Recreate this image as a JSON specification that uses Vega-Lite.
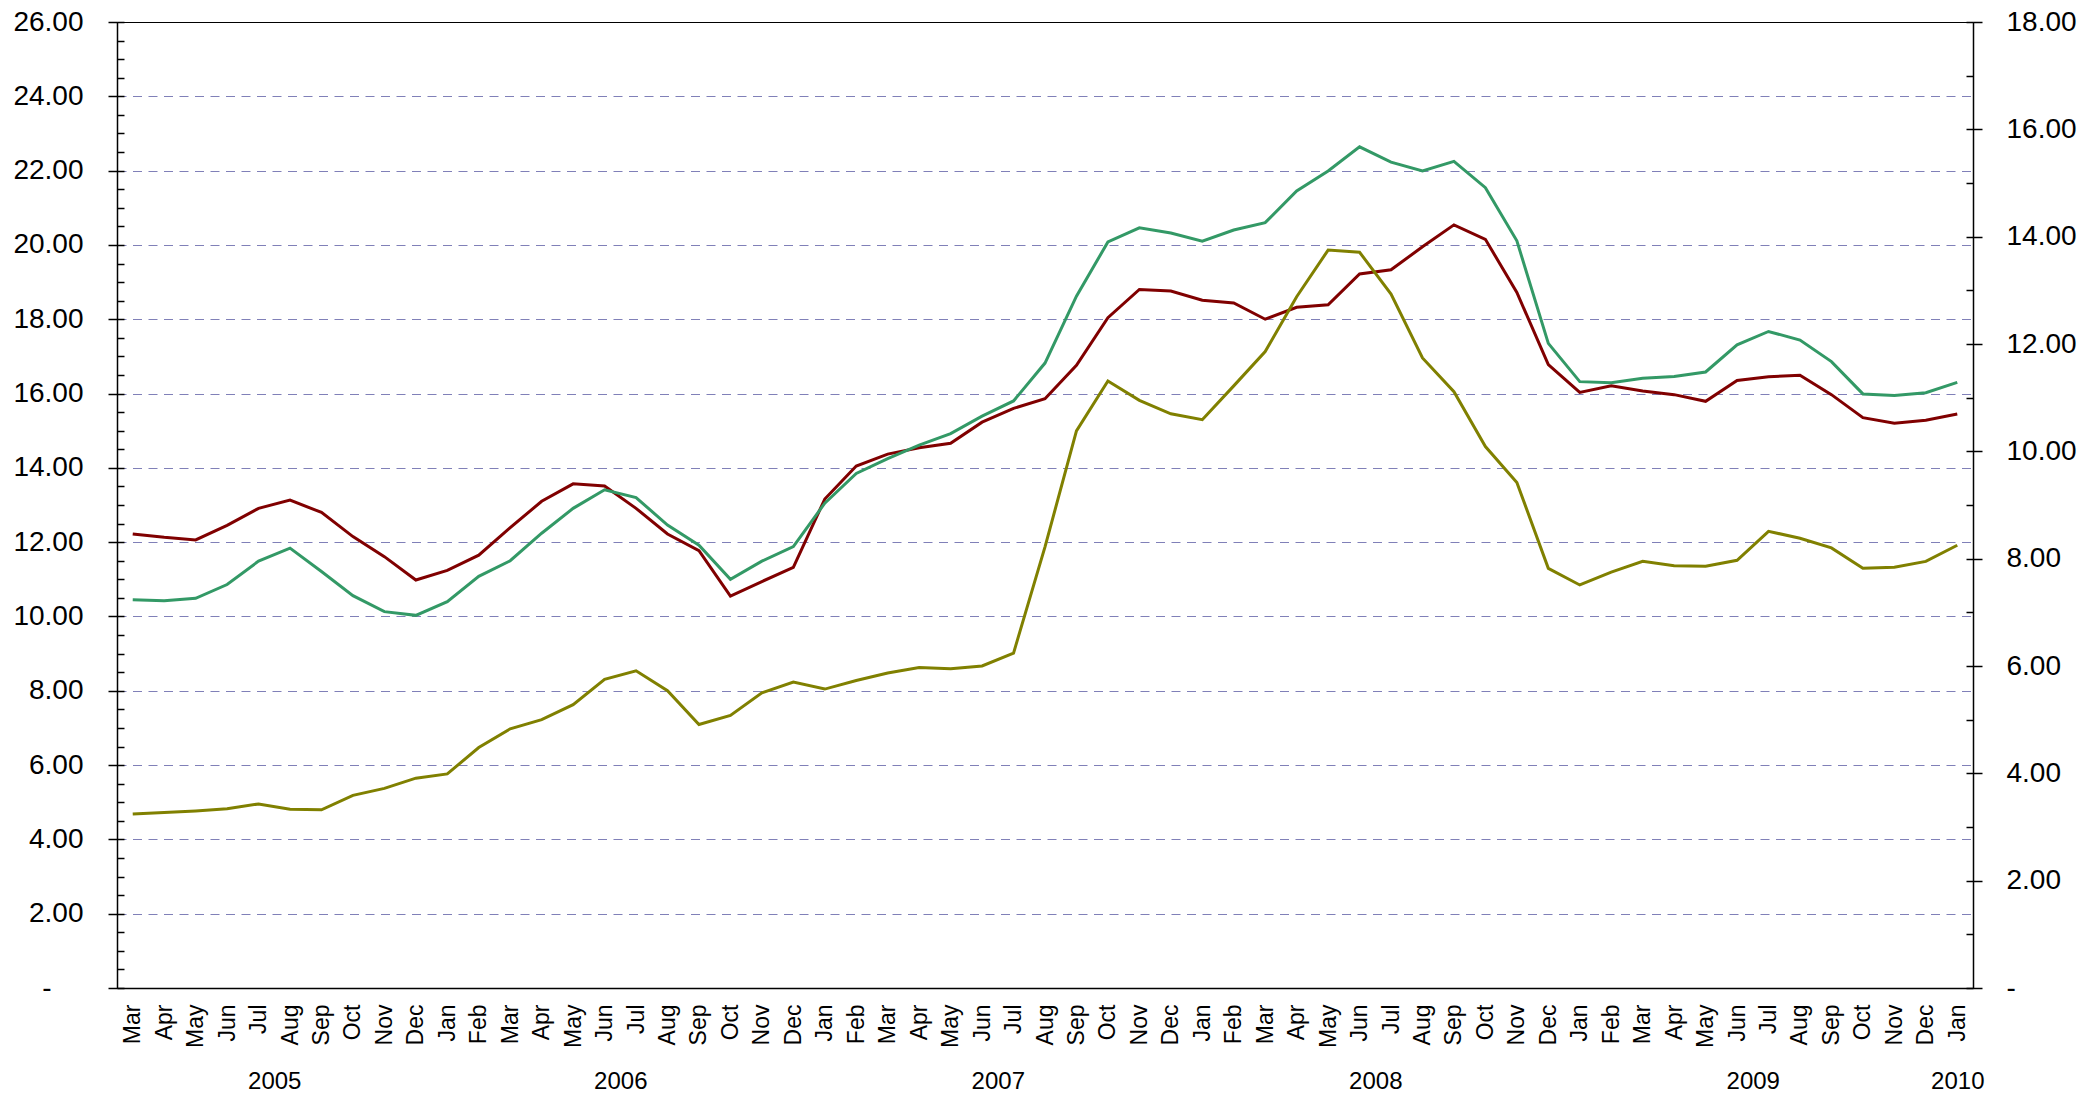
{
  "$schema": "https://vega.github.io/schema/vega-lite/v6.json",
  "width": 1856,
  "height": 966,
  "autosize": {"type": "none"},
  "padding": {"left": 117, "top": 22, "right": 111, "bottom": 106},
  "background": "white",
  "config": {
    "font": "Liberation Sans",
    "view": {"stroke": "black", "strokeWidth": 1},
    "axis": {"titleFont": "Liberation Sans", "labelFont": "Liberation Sans", "labelColor": "black"}
  },
  "data": {
    "values": [
      {"m": "Mar 2005", "a": 12.22, "b": 10.45, "c": 3.24},
      {"m": "Apr 2005", "a": 12.13, "b": 10.42, "c": 3.27},
      {"m": "May 2005", "a": 12.06, "b": 10.49, "c": 3.30},
      {"m": "Jun 2005", "a": 12.45, "b": 10.86, "c": 3.34},
      {"m": "Jul 2005", "a": 12.91, "b": 11.49, "c": 3.43},
      {"m": "Aug 2005", "a": 13.13, "b": 11.84, "c": 3.33},
      {"m": "Sep 2005", "a": 12.80, "b": 11.21, "c": 3.32},
      {"m": "Oct 2005", "a": 12.15, "b": 10.56, "c": 3.59},
      {"m": "Nov 2005", "a": 11.61, "b": 10.13, "c": 3.72},
      {"m": "Dec 2005", "a": 10.98, "b": 10.03, "c": 3.91},
      {"m": "Jan 2006", "a": 11.24, "b": 10.40, "c": 3.99},
      {"m": "Feb 2006", "a": 11.65, "b": 11.08, "c": 4.48},
      {"m": "Mar 2006", "a": 12.39, "b": 11.50, "c": 4.83},
      {"m": "Apr 2006", "a": 13.10, "b": 12.24, "c": 5.00},
      {"m": "May 2006", "a": 13.57, "b": 12.91, "c": 5.28},
      {"m": "Jun 2006", "a": 13.51, "b": 13.41, "c": 5.75},
      {"m": "Jul 2006", "a": 12.91, "b": 13.20, "c": 5.91},
      {"m": "Aug 2006", "a": 12.22, "b": 12.46, "c": 5.54},
      {"m": "Sep 2006", "a": 11.77, "b": 11.92, "c": 4.91},
      {"m": "Oct 2006", "a": 10.55, "b": 11.00, "c": 5.08},
      {"m": "Nov 2006", "a": 10.94, "b": 11.49, "c": 5.50},
      {"m": "Dec 2006", "a": 11.32, "b": 11.88, "c": 5.70},
      {"m": "Jan 2007", "a": 13.16, "b": 13.05, "c": 5.57},
      {"m": "Feb 2007", "a": 14.05, "b": 13.85, "c": 5.73},
      {"m": "Mar 2007", "a": 14.37, "b": 14.25, "c": 5.87},
      {"m": "Apr 2007", "a": 14.54, "b": 14.61, "c": 5.97},
      {"m": "May 2007", "a": 14.66, "b": 14.92, "c": 5.95},
      {"m": "Jun 2007", "a": 15.23, "b": 15.39, "c": 6.00},
      {"m": "Jul 2007", "a": 15.60, "b": 15.80, "c": 6.24},
      {"m": "Aug 2007", "a": 15.86, "b": 16.82, "c": 8.22},
      {"m": "Sep 2007", "a": 16.76, "b": 18.62, "c": 10.38},
      {"m": "Oct 2007", "a": 18.04, "b": 20.08, "c": 11.31},
      {"m": "Nov 2007", "a": 18.80, "b": 20.46, "c": 10.95},
      {"m": "Dec 2007", "a": 18.76, "b": 20.32, "c": 10.70},
      {"m": "Jan 2008", "a": 18.51, "b": 20.10, "c": 10.59},
      {"m": "Feb 2008", "a": 18.44, "b": 20.40, "c": 11.22},
      {"m": "Mar 2008", "a": 18.00, "b": 20.60, "c": 11.86},
      {"m": "Apr 2008", "a": 18.32, "b": 21.45, "c": 12.88},
      {"m": "May 2008", "a": 18.39, "b": 21.99, "c": 13.75},
      {"m": "Jun 2008", "a": 19.22, "b": 22.64, "c": 13.71},
      {"m": "Jul 2008", "a": 19.33, "b": 22.23, "c": 12.93},
      {"m": "Aug 2008", "a": 19.95, "b": 21.99, "c": 11.74},
      {"m": "Sep 2008", "a": 20.54, "b": 22.25, "c": 11.11},
      {"m": "Oct 2008", "a": 20.15, "b": 21.54, "c": 10.09},
      {"m": "Nov 2008", "a": 18.72, "b": 20.11, "c": 9.42},
      {"m": "Dec 2008", "a": 16.78, "b": 17.35, "c": 7.82},
      {"m": "Jan 2009", "a": 16.03, "b": 16.32, "c": 7.51},
      {"m": "Feb 2009", "a": 16.21, "b": 16.29, "c": 7.75},
      {"m": "Mar 2009", "a": 16.07, "b": 16.41, "c": 7.95},
      {"m": "Apr 2009", "a": 15.97, "b": 16.46, "c": 7.87},
      {"m": "May 2009", "a": 15.79, "b": 16.58, "c": 7.86},
      {"m": "Jun 2009", "a": 16.35, "b": 17.31, "c": 7.97},
      {"m": "Jul 2009", "a": 16.45, "b": 17.67, "c": 8.51},
      {"m": "Aug 2009", "a": 16.49, "b": 17.44, "c": 8.38},
      {"m": "Sep 2009", "a": 15.97, "b": 16.86, "c": 8.20},
      {"m": "Oct 2009", "a": 15.35, "b": 15.99, "c": 7.82},
      {"m": "Nov 2009", "a": 15.20, "b": 15.95, "c": 7.84},
      {"m": "Dec 2009", "a": 15.28, "b": 16.02, "c": 7.95},
      {"m": "Jan 2010", "a": 15.45, "b": 16.30, "c": 8.25}
    ]
  },
  "resolve": {"scale": {"y": "independent"}, "axis": {"x": "independent", "y": "independent"}},
  "layer": [
    {
      "mark": {"type": "line", "strokeOpacity": 0},
      "encoding": {
        "x": {"field": "m", "type": "ordinal", "sort": null, "scale": {"type": "point", "padding": 0.5}, "axis": null},
        "y": {
          "field": "a", "type": "quantitative",
          "scale": {"domain": [0, 26], "nice": false, "zero": true},
          "axis": {
            "orient": "left", "title": null, "labels": false, "domain": false, "grid": false,
            "values": [0,0.5,1,1.5,2,2.5,3,3.5,4,4.5,5,5.5,6,6.5,7,7.5,8,8.5,9,9.5,10,10.5,11,11.5,12,12.5,13,13.5,14,14.5,15,15.5,16,16.5,17,17.5,18,18.5,19,19.5,20,20.5,21,21.5,22,22.5,23,23.5,24,24.5,25,25.5,26],
            "ticks": true, "tickSize": -7, "tickColor": "black", "tickWidth": 1.5
          }
        }
      }
    },
    {
      "mark": {"type": "line", "strokeOpacity": 0},
      "encoding": {
        "x": {"field": "m", "type": "ordinal", "sort": null, "axis": null},
        "y": {
          "field": "c", "type": "quantitative",
          "scale": {"domain": [0, 18], "nice": false, "zero": true},
          "axis": {
            "orient": "right", "title": null, "labels": false, "domain": false, "grid": false,
            "values": [0,1,2,3,4,5,6,7,8,9,10,11,12,13,14,15,16,17,18],
            "ticks": true, "tickSize": -7, "tickColor": "black", "tickWidth": 1.5
          }
        }
      }
    },
    {
      "transform": [{"fold": ["a", "b"], "as": ["k", "v"]}],
      "mark": {"type": "line", "strokeWidth": 3},
      "encoding": {
        "x": {
          "field": "m", "type": "ordinal", "sort": null,
          "axis": {
            "orient": "bottom", "title": null, "ticks": false, "grid": false,
            "domain": true, "domainColor": "black", "domainWidth": 1.5,
            "labelAngle": 270, "labelAlign": "right", "labelBaseline": "middle",
            "labelPadding": 16, "labelFontSize": 23, "labelOverlap": false,
            "labelExpr": "split(datum.value, ' ')[0]"
          }
        },
        "y": {
          "field": "v", "type": "quantitative",
          "scale": {"domain": [0, 26], "nice": false, "zero": true},
          "axis": {
            "orient": "left", "title": null,
            "values": [0,2,4,6,8,10,12,14,16,18,20,22,24,26],
            "grid": true,
            "gridColor": {"condition": {"test": "datum.value == 26", "value": "black"}, "value": "#8080b8"},
            "gridDash": [9, 6.5], "gridWidth": 1.2,
            "domain": true, "domainColor": "black", "domainWidth": 1.5,
            "ticks": true, "tickSize": 9, "tickColor": "black", "tickWidth": 1.5,
            "labelFontSize": 28,
            "labelPadding": {"condition": {"test": "datum.value == 0", "value": 57}, "value": 25},
            "labelOverlap": false,
            "labelExpr": "datum.value == 0 ? '-' : format(datum.value, '.2f')"
          }
        },
        "color": {
          "field": "k", "type": "nominal", "legend": null,
          "scale": {"domain": ["a", "b"], "range": ["#800000", "#339966"]}
        }
      }
    },
    {
      "mark": {"type": "line", "strokeWidth": 3, "color": "#808000"},
      "encoding": {
        "x": {
          "field": "m", "type": "ordinal", "sort": null,
          "axis": {
            "orient": "bottom", "title": null, "ticks": false, "grid": false, "domain": false,
            "labelAngle": 0, "labelAlign": "center", "labelBaseline": "alphabetic",
            "labelPadding": 100, "labelFontSize": 24, "labelOverlap": false,
            "labelOffset": {"condition": {"test": "datum.value == 'Jan 2010'", "value": 0}, "value": 15.7},
            "labelExpr": "datum.value == 'Jul 2005' ? '2005' : datum.value == 'Jun 2006' ? '2006' : datum.value == 'Jun 2007' ? '2007' : datum.value == 'Jun 2008' ? '2008' : datum.value == 'Jun 2009' ? '2009' : datum.value == 'Jan 2010' ? '2010' : ''"
          }
        },
        "y": {
          "field": "c", "type": "quantitative",
          "scale": {"domain": [0, 18], "nice": false, "zero": true},
          "axis": {
            "orient": "right", "title": null,
            "values": [0,2,4,6,8,10,12,14,16,18],
            "grid": false,
            "domain": true, "domainColor": "black", "domainWidth": 1.5,
            "ticks": true, "tickSize": 9, "tickColor": "black", "tickWidth": 1.5,
            "labelFontSize": 28, "labelPadding": 24, "labelOverlap": false,
            "labelExpr": "datum.value == 0 ? '-' : format(datum.value, '.2f')"
          }
        }
      }
    }
  ]
}
